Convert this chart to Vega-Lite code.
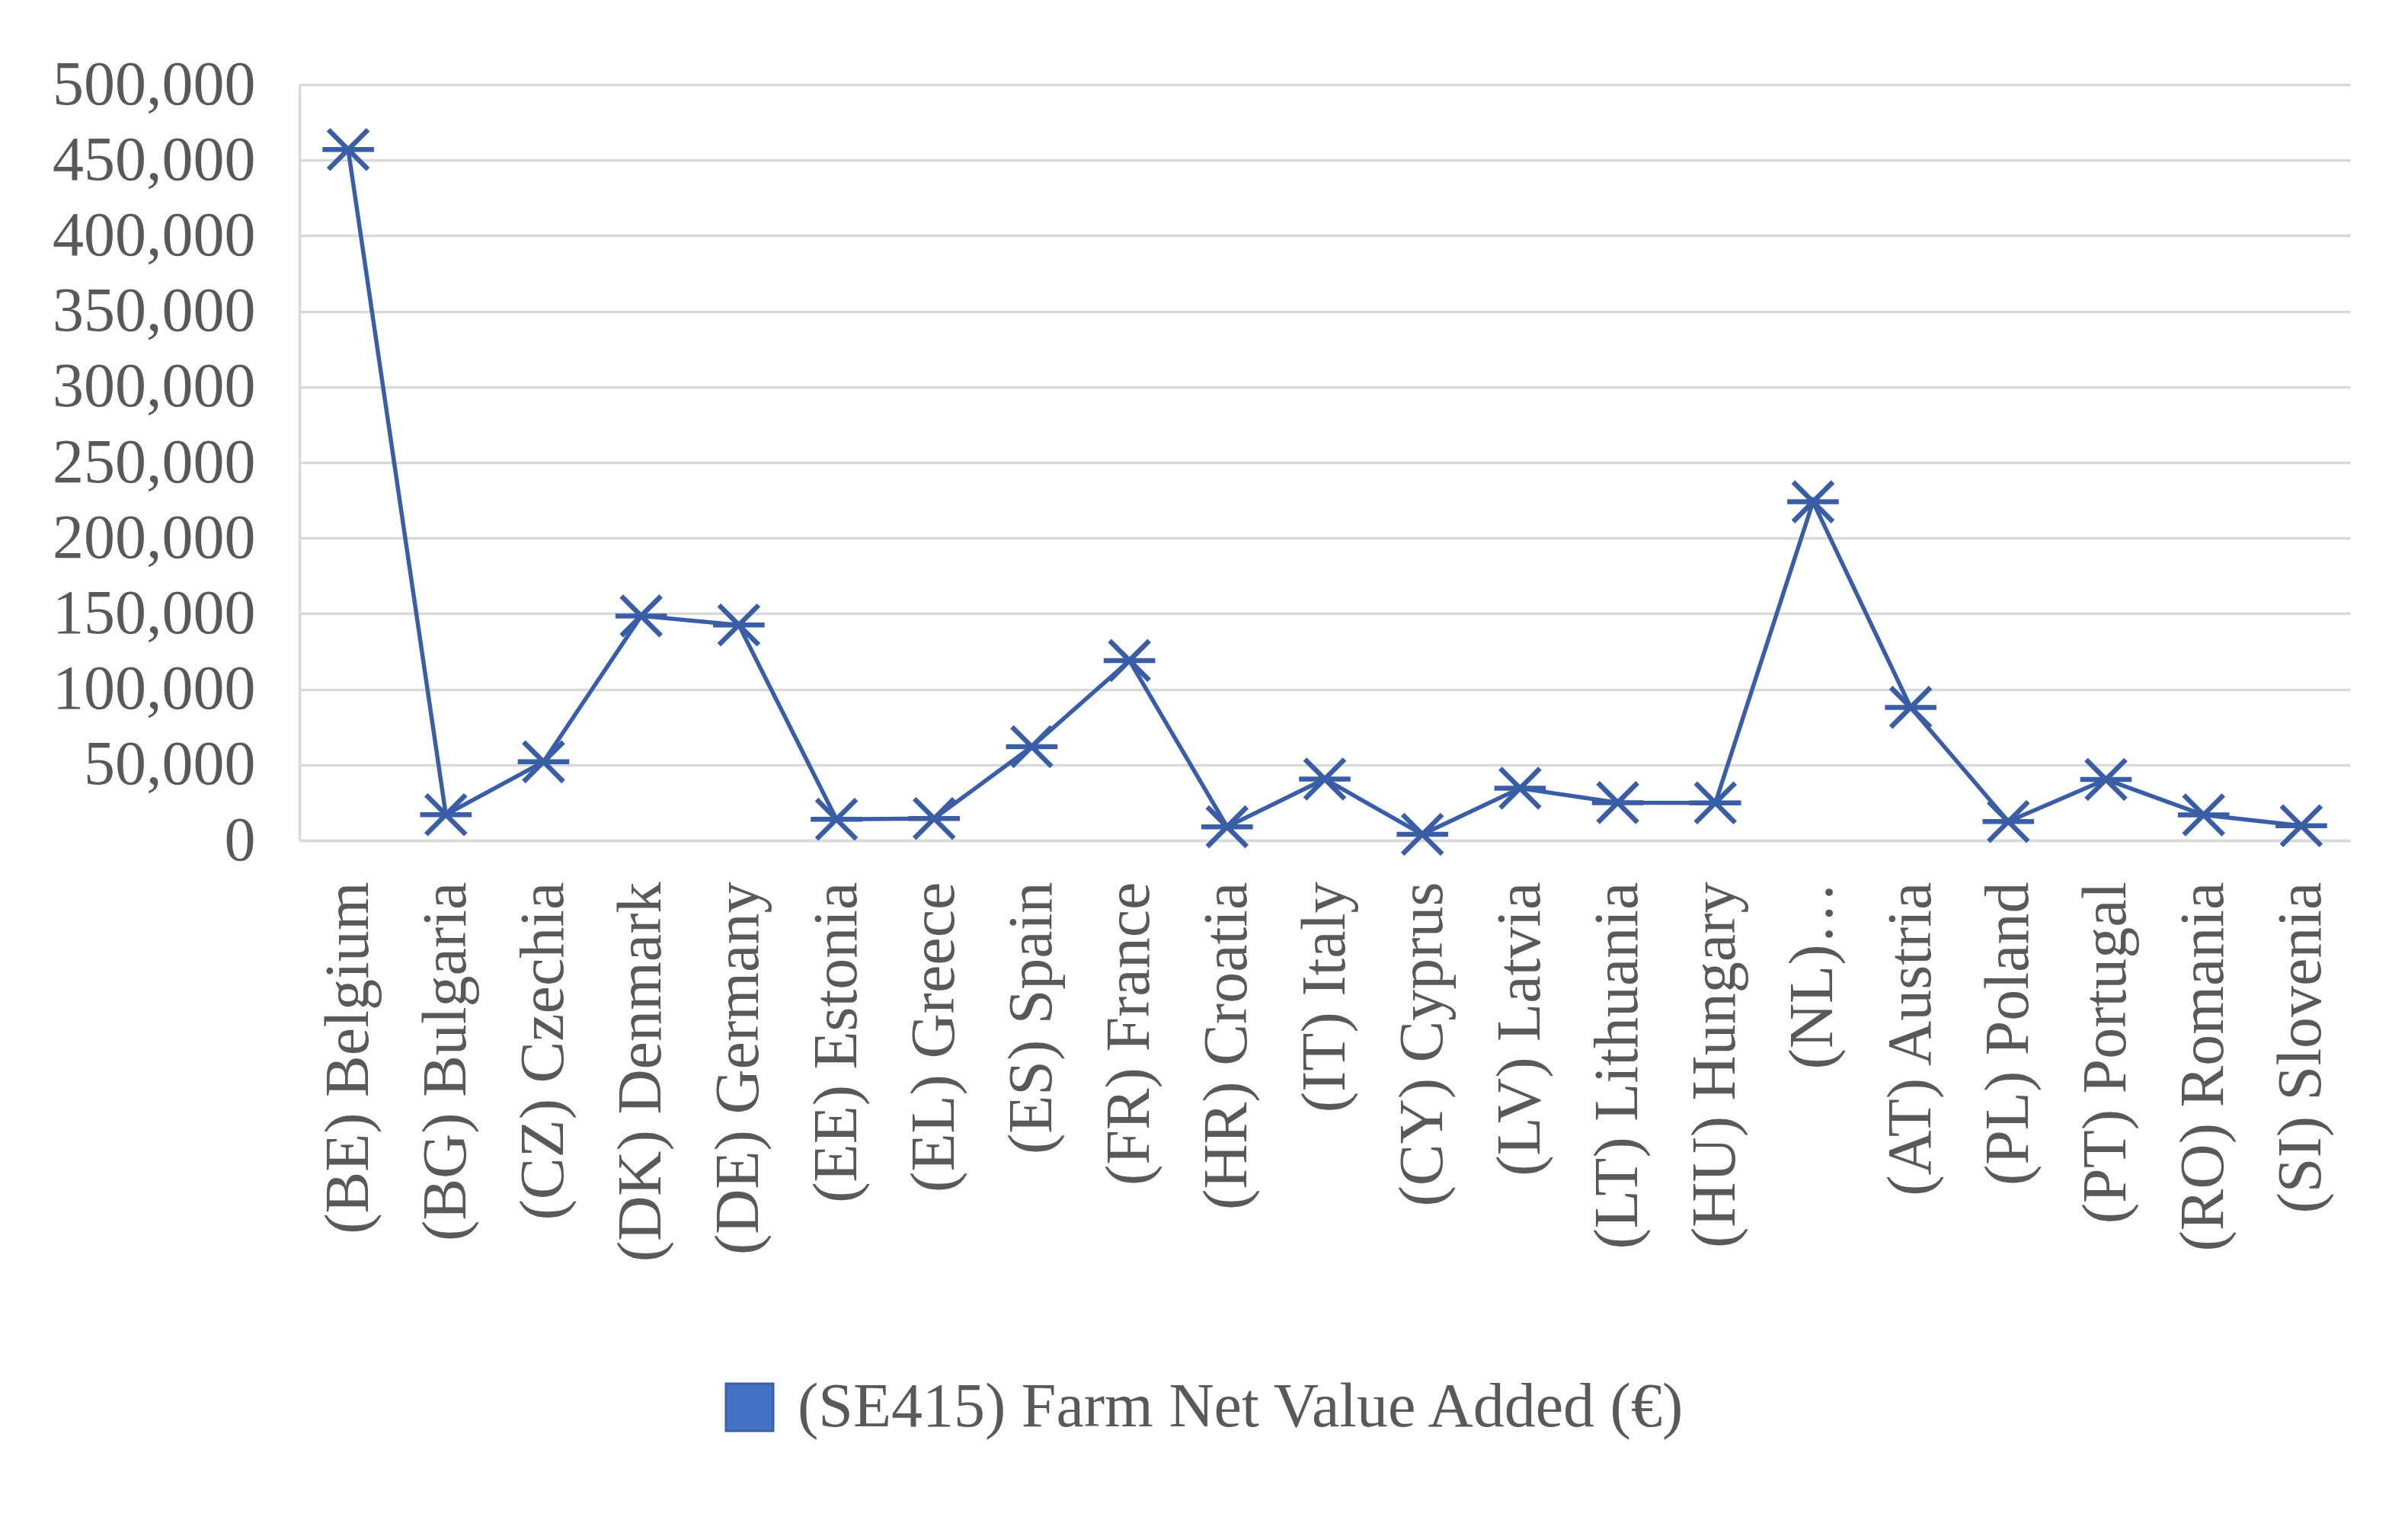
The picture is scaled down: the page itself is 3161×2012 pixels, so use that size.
{
  "$schema": "https://vega.github.io/schema/vega-lite/v6.json",
  "width": 2692,
  "height": 992,
  "autosize": {"type": "none"},
  "padding": {"left": 393, "top": 111, "right": 76, "bottom": 909},
  "background": "white",
  "config": {
    "view": {"stroke": null},
    "font": "Liberation Serif",
    "axis": {
      "labelFont": "Liberation Serif",
      "labelFontSize": 82,
      "labelColor": "#595959",
      "labelLimit": 2000,
      "ticks": false,
      "title": null
    }
  },
  "data": {
    "values": [
      {"country": "(BE) Belgium", "value": 457000, "series": "(SE415) Farm Net Value Added (€)"},
      {"country": "(BG) Bulgaria", "value": 17000, "series": "(SE415) Farm Net Value Added (€)"},
      {"country": "(CZ) Czechia", "value": 52000, "series": "(SE415) Farm Net Value Added (€)"},
      {"country": "(DK) Denmark", "value": 148500, "series": "(SE415) Farm Net Value Added (€)"},
      {"country": "(DE) Germany", "value": 142500, "series": "(SE415) Farm Net Value Added (€)"},
      {"country": "(EE) Estonia", "value": 14000, "series": "(SE415) Farm Net Value Added (€)"},
      {"country": "(EL) Greece", "value": 14500, "series": "(SE415) Farm Net Value Added (€)"},
      {"country": "(ES) Spain", "value": 62000, "series": "(SE415) Farm Net Value Added (€)"},
      {"country": "(FR) France", "value": 119000, "series": "(SE415) Farm Net Value Added (€)"},
      {"country": "(HR) Croatia", "value": 9000, "series": "(SE415) Farm Net Value Added (€)"},
      {"country": "(IT) Italy", "value": 40600, "series": "(SE415) Farm Net Value Added (€)"},
      {"country": "(CY) Cyprus", "value": 4000, "series": "(SE415) Farm Net Value Added (€)"},
      {"country": "(LV) Latvia", "value": 34500, "series": "(SE415) Farm Net Value Added (€)"},
      {"country": "(LT) Lithuania", "value": 25000, "series": "(SE415) Farm Net Value Added (€)"},
      {"country": "(HU) Hungary", "value": 24800, "series": "(SE415) Farm Net Value Added (€)"},
      {"country": "(NL)…", "value": 224000, "series": "(SE415) Farm Net Value Added (€)"},
      {"country": "(AT) Austria", "value": 88000, "series": "(SE415) Farm Net Value Added (€)"},
      {"country": "(PL) Poland", "value": 12500, "series": "(SE415) Farm Net Value Added (€)"},
      {"country": "(PT) Portugal", "value": 40300, "series": "(SE415) Farm Net Value Added (€)"},
      {"country": "(RO) Romania", "value": 16900, "series": "(SE415) Farm Net Value Added (€)"},
      {"country": "(SI) Slovenia", "value": 9700, "series": "(SE415) Farm Net Value Added (€)"}
    ]
  },
  "encoding": {
    "x": {
      "field": "country",
      "type": "ordinal",
      "sort": null,
      "scale": {"type": "point", "padding": 0.5},
      "axis": {
        "labelAngle": -90,
        "labelPadding": 54,
        "domain": true,
        "domainColor": "#D9D9D9",
        "domainWidth": 3.5,
        "grid": false,
        "labelOverlap": false
      }
    },
    "y": {
      "field": "value",
      "type": "quantitative",
      "scale": {"domain": [0, 500000], "nice": false},
      "axis": {
        "values": [0, 50000, 100000, 150000, 200000, 250000, 300000, 350000, 400000, 450000, 500000],
        "format": ",.0f",
        "labelPadding": 58,
        "grid": true,
        "gridColor": "#D9D9D9",
        "gridWidth": 3.5,
        "domain": true,
        "domainColor": "#D9D9D9",
        "domainWidth": 3.5
      }
    }
  },
  "layer": [
    {
      "mark": {"type": "line", "strokeWidth": 5.5},
      "encoding": {
        "color": {
          "field": "series",
          "type": "nominal",
          "scale": {"range": ["#3A5EA6"]},
          "legend": {
            "title": null,
            "orient": "none",
            "legendX": 550,
            "legendY": 1695,
            "direction": "horizontal",
            "symbolType": "square",
            "symbolSize": 3844,
            "symbolStrokeWidth": 3,
            "labelFont": "Liberation Serif",
            "labelFontSize": 82,
            "labelColor": "#595959",
            "labelOffset": 22,
            "labelLimit": 2000,
            "encode": {
              "symbols": {
                "update": {
                  "fill": {"value": "#4472C4"},
                  "stroke": {"value": "#2F5597"},
                  "shape": {"value": "square"},
                  "opacity": {"value": 1},
                  "fillOpacity": {"value": 1}
                }
              }
            }
          }
        }
      }
    },
    {
      "mark": {
        "type": "point",
        "shape": "M-1.3,0L1.3,0M-1,-1L1,1M1,-1L-1,1",
        "filled": false,
        "size": 2704,
        "strokeWidth": 6.5,
        "color": "#3A5EA6",
        "opacity": 1
      }
    }
  ]
}
